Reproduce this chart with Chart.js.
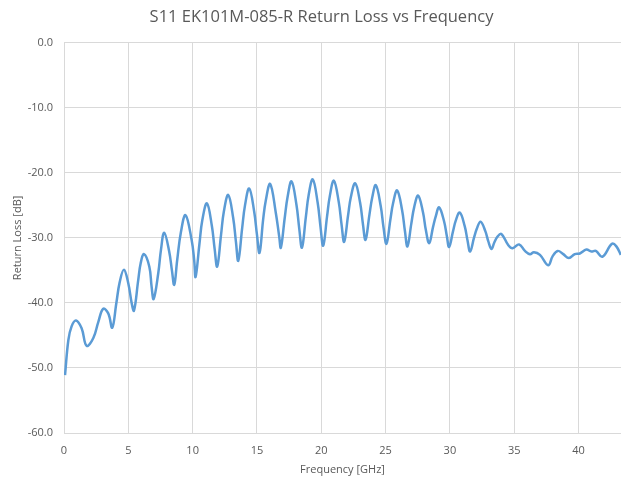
<!DOCTYPE html>
<html>
<head>
<meta charset="utf-8">
<script src="https://cdn.jsdelivr.net/npm/chart.js@4"></script>
<style>
html,body{margin:0;padding:0;background:#fff;}
#wrap{width:621px;height:482px;position:relative;}
</style>
</head>
<body>
<div id="wrap"><canvas id="c" width="621" height="482"></canvas></div>
<script>
const titleText = "S11 EK101M-085-R Return Loss vs Frequency";
const xAxisTitle = "Frequency [GHz]";
const yAxisTitle = "Return Loss [dB]";
const xTickValues = [0, 5, 10, 15, 20, 25, 30, 35, 40];
const yTickValues = [0, -10, -20, -30, -40, -50, -60];
const freqGHz = [
  0.08, 0.34, 0.59, 0.93, 1.37, 1.76, 2.28, 2.67, 3.05, 3.44,
  3.75, 4.07, 4.33, 4.66, 5.00, 5.26, 5.44, 5.77, 5.96, 6.22,
  6.63, 6.81, 6.97, 7.33, 7.54, 7.79, 8.17, 8.39, 8.57, 8.80,
  9.09, 9.45, 9.92, 10.12, 10.23, 10.53, 10.75, 11.11, 11.49, 11.71,
  11.91, 12.21, 12.43, 12.77, 13.15, 13.37, 13.55, 13.85, 14.07, 14.40,
  14.78, 15.00, 15.20, 15.48, 15.69, 16.03, 16.47, 16.73, 16.86, 17.16,
  17.38, 17.69, 18.07, 18.29, 18.50, 18.80, 19.02, 19.34, 19.72, 19.94,
  20.15, 20.45, 20.67, 20.98, 21.36, 21.58, 21.78, 22.08, 22.30, 22.64,
  23.02, 23.24, 23.44, 23.74, 23.96, 24.24, 24.62, 24.84, 25.07, 25.37,
  25.59, 25.90, 26.28, 26.50, 26.70, 27.00, 27.22, 27.53, 27.91, 28.13,
  28.39, 28.69, 28.91, 29.16, 29.54, 29.76, 29.94, 30.24, 30.46, 30.77,
  31.15, 31.37, 31.57, 31.87, 32.09, 32.38, 32.76, 32.98, 33.23, 33.45,
  33.70, 34.00, 34.53, 34.87, 35.38, 35.83, 36.22, 36.53, 37.00, 37.64,
  37.99, 38.38, 38.81, 39.25, 39.71, 40.10, 40.61, 41.00, 41.34, 41.85,
  42.60, 42.94, 43.28
];
const returnLossDb = [
  -51.1, -45.7, -43.6, -42.7, -43.9, -46.6, -45.4, -42.9, -40.9, -41.6,
  -43.8, -40.0, -36.8, -34.9, -37.0, -40.0, -41.2, -36.5, -33.9, -32.5,
  -34.4, -37.5, -39.4, -35.4, -31.8, -29.2, -32.0, -35.0, -37.2, -33.4,
  -29.1, -26.5, -30.3, -33.4, -36.0, -30.9, -27.3, -24.7, -28.1, -31.7,
  -34.4, -29.5, -25.9, -23.4, -26.9, -30.7, -33.5, -28.5, -25.0, -22.4,
  -25.9, -29.5, -32.3, -27.2, -24.2, -21.7, -26.2, -29.8, -31.5, -26.9,
  -23.7, -21.3, -24.9, -28.6, -31.5, -26.8, -23.4, -21.0, -24.6, -28.3,
  -31.2, -26.7, -23.5, -21.2, -24.5, -28.0, -30.6, -26.6, -23.7, -21.6,
  -24.6, -27.9, -30.3, -26.5, -23.8, -21.9, -25.1, -28.4, -30.9, -27.2,
  -24.6, -22.7, -25.7, -28.9, -31.3, -27.8, -25.3, -23.5, -26.1, -28.8,
  -30.8, -28.3, -26.6, -25.3, -27.4, -29.7, -31.4, -29.0, -27.3, -26.1,
  -28.2, -30.4, -32.1, -30.0, -28.6, -27.5, -29.0, -30.5, -31.7, -30.7,
  -29.8, -29.4, -31.1, -31.6, -31.0, -32.0, -32.5, -32.2, -32.6, -34.2,
  -32.8, -32.0, -32.5, -33.1, -32.5, -32.4, -31.8, -32.1, -32.0, -32.9,
  -30.9, -31.3, -32.6
];

const points = freqGHz.map((f, i) => ({ x: f, y: returnLossDb[i] }));
const txt = '#595959';
const gridCol = '#d9d9d9';
const font = "'Open Sans', 'Liberation Sans', sans-serif";

const titleShift = {
  id: 'titleShift',
  afterLayout(chart) {
    const t = chart.titleBlock;
    if (t) { t.left += 11; t.right += 11; }
  }
};

new Chart(document.getElementById('c'), {
  type: 'line',
  data: {
    datasets: [{
      data: points,
      borderColor: '#5B9BD5',
      borderWidth: 2.5,
      pointRadius: 0,
      tension: 0.4,
      fill: false
    }]
  },
  plugins: [titleShift],
  options: {
    responsive: false,
    animation: false,
    layout: { padding: { left: 0, right: 0, top: 0, bottom: 0 } },
    plugins: {
      legend: { display: false },
      tooltip: { enabled: false },
      title: {
        display: true,
        text: titleText,
        color: txt,
        font: { family: font, size: 16.5, weight: 'normal' },
        padding: { top: 7, bottom: 16 }
      }
    },
    scales: {
      x: {
        type: 'linear',
        min: 0,
        max: 43.3,
        afterBuildTicks: s => { s.ticks = xTickValues.map(v => ({ value: v })); },
        afterFit: s => { s.height = 49; },
        grid: { color: gridCol, drawTicks: false, lineWidth: 1 },
        border: { color: gridCol },
        ticks: { color: txt, font: { family: font, size: 11 }, padding: 11, maxRotation: 0 },
        title: { display: true, text: xAxisTitle, color: txt, font: { family: font, size: 11 }, padding: { top: 3, bottom: 6 } }
      },
      y: {
        type: 'linear',
        min: -60,
        max: 0,
        afterBuildTicks: s => { s.ticks = yTickValues.map(v => ({ value: v })); },
        afterFit: s => { s.width = 64; },
        grid: { color: gridCol, drawTicks: false, lineWidth: 1 },
        border: { color: gridCol },
        ticks: { color: txt, font: { family: font, size: 11 }, padding: 11, callback: v => Number(v).toFixed(1) },
        title: { display: true, text: yAxisTitle, color: txt, font: { family: font, size: 11 }, padding: { top: 11, bottom: 0 } }
      }
    }
  }
});
</script>
</body>
</html>
